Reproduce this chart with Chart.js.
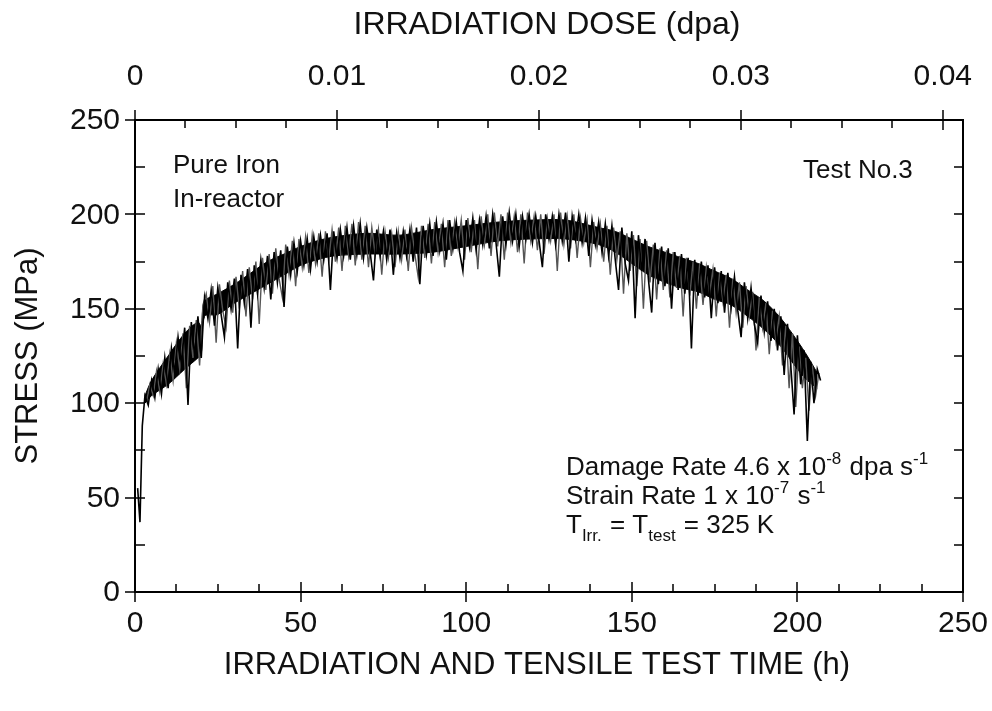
<!DOCTYPE html>
<html lang="en">
<head>
    <meta charset="UTF-8">
    <title>Stress vs irradiation time - Pure Iron Test No.3</title>
    <script src="https://cdn.jsdelivr.net/npm/chart.js"></script>
    <style>
        body {
            margin: 0;
            padding: 0;
            background-color: #ffffff;
        }
        #stressChart {
            display: block;
        }
    </style>
</head>
<body>
<canvas id="stressChart" width="992" height="711"></canvas>

<script>
    // test time (h)
    const hours = [0.8, 1.5, 2.2, 3, 4, 5, 6, 7, 8, 9, 10, 11, 12, 13, 14, 15, 16, 17, 18, 19, 20,
        21, 22, 23, 24, 25, 26, 27, 28, 29, 30, 31, 32, 33, 34, 35, 36, 37, 38, 39, 40,
        41, 42, 43, 44, 45, 46, 47, 48, 49, 50, 51, 52, 53, 54, 55, 56, 57, 58, 59, 60,
        61, 62, 63, 64, 65, 66, 67, 68, 69, 70, 71, 72, 73, 74, 75, 76, 77, 78, 79, 80,
        81, 82, 83, 84, 85, 86, 87, 88, 89, 90, 91, 92, 93, 94, 95, 96, 97, 98, 99, 100,
        101, 102, 103, 104, 105, 106, 107, 108, 109, 110, 111, 112, 113, 114, 115, 116, 117, 118, 119, 120,
        121, 122, 123, 124, 125, 126, 127, 128, 129, 130, 131, 132, 133, 134, 135, 136, 137, 138, 139, 140,
        141, 142, 143, 144, 145, 146, 147, 148, 149, 150, 151, 152, 153, 154, 155, 156, 157, 158, 159, 160,
        161, 162, 163, 164, 165, 166, 167, 168, 169, 170, 171, 172, 173, 174, 175, 176, 177, 178, 179, 180,
        181, 182, 183, 184, 185, 186, 187, 188, 189, 190, 191, 192, 193, 194, 195, 196, 197, 198, 199, 200,
        201, 202, 203, 204, 205, 206, 207];

    // stress (MPa)
    const stress = [55, 37, 88, 104, 99, 112, 103, 118, 105, 124, 108, 129, 116, 135, 121, 140, 99, 143, 125, 146, 124,
        156, 145, 160, 141, 161, 147, 135, 164, 150, 166, 129, 168, 153, 171, 140, 173, 158, 176, 161, 178,
        155, 180, 164, 181, 151, 183, 168, 185, 170, 186, 173, 187, 171, 188, 175, 189, 176, 190, 160, 191,
        177, 192, 178, 193, 176, 194, 179, 195, 177, 193, 180, 165, 192, 178, 191, 176, 192, 168, 190, 177,
        191, 178, 192, 175, 193, 163, 194, 179, 195, 178, 196, 181, 195, 176, 197, 182, 196, 180, 170, 197,
        183, 198, 181, 197, 184, 199, 182, 200, 185, 167, 199, 184, 201, 186, 200, 183, 199, 187, 200, 185,
        199, 186, 172, 200, 187, 199, 184, 200, 186, 201, 175, 199, 187, 200, 185, 198, 178, 197, 184, 196,
        180, 195, 178, 194, 176, 160, 193, 174, 165, 191, 145, 189, 170, 187, 166, 148, 185, 163, 183, 162,
        182, 150, 180, 160, 179, 158, 177, 129, 176, 157, 175, 156, 173, 145, 172, 153, 170, 148, 169, 151,
        167, 149, 135, 164, 145, 161, 142, 132, 157, 138, 154, 133, 150, 128, 146, 115, 142, 120, 94, 136,
        110, 128, 80, 122, 100, 118, 112];

    // second (grey) trace, half-hour readings
    const hoursGrey = [3.5, 4.5, 5.5, 6.5, 7.5, 8.5, 9.5,
        10.5, 11.5, 12.5, 13.5, 14.5, 15.5, 16.5, 17.5, 18.5, 19.5,
        20.5, 21.5, 22.5, 23.5, 24.5, 25.5, 26.5, 27.5, 28.5, 29.5,
        30.5, 31.5, 32.5, 33.5, 34.5, 35.5, 36.5, 37.5, 38.5, 39.5,
        40.5, 41.5, 42.5, 43.5, 44.5, 45.5, 46.5, 47.5, 48.5, 49.5,
        50.5, 51.5, 52.5, 53.5, 54.5, 55.5, 56.5, 57.5, 58.5, 59.5,
        60.5, 61.5, 62.5, 63.5, 64.5, 65.5, 66.5, 67.5, 68.5, 69.5,
        70.5, 71.5, 72.5, 73.5, 74.5, 75.5, 76.5, 77.5, 78.5, 79.5,
        80.5, 81.5, 82.5, 83.5, 84.5, 85.5, 86.5, 87.5, 88.5, 89.5,
        90.5, 91.5, 92.5, 93.5, 94.5, 95.5, 96.5, 97.5, 98.5, 99.5,
        100.5, 101.5, 102.5, 103.5, 104.5, 105.5, 106.5, 107.5, 108.5, 109.5,
        110.5, 111.5, 112.5, 113.5, 114.5, 115.5, 116.5, 117.5, 118.5, 119.5,
        120.5, 121.5, 122.5, 123.5, 124.5, 125.5, 126.5, 127.5, 128.5, 129.5,
        130.5, 131.5, 132.5, 133.5, 134.5, 135.5, 136.5, 137.5, 138.5, 139.5,
        140.5, 141.5, 142.5, 143.5, 144.5, 145.5, 146.5, 147.5, 148.5, 149.5,
        150.5, 151.5, 152.5, 153.5, 154.5, 155.5, 156.5, 157.5, 158.5, 159.5,
        160.5, 161.5, 162.5, 163.5, 164.5, 165.5, 166.5, 167.5, 168.5, 169.5,
        170.5, 171.5, 172.5, 173.5, 174.5, 175.5, 176.5, 177.5, 178.5, 179.5,
        180.5, 181.5, 182.5, 183.5, 184.5, 185.5, 186.5, 187.5, 188.5, 189.5,
        190.5, 191.5, 192.5, 193.5, 194.5, 195.5, 196.5, 197.5, 198.5, 199.5,
        200.5, 201.5, 202.5, 203.5, 204.5, 205.5, 206.5];
    const stressGrey = [101, 110, 104, 117, 106, 121, 110,
        126, 112, 132, 118, 137, 108, 141, 124, 144, 120,
        152, 158, 143, 162, 132, 163, 149, 140, 165, 148,
        167, 150, 170, 146, 172, 155, 175, 142, 177, 160,
        179, 158, 182, 166, 156, 184, 168, 186, 162, 187,
        172, 188, 169, 189, 174, 190, 167, 191, 176, 192,
        175, 193, 170, 194, 178, 195, 173, 196, 176, 194,
        172, 193, 179, 192, 168, 191, 177, 190, 172, 191,
        176, 192, 170, 193, 179, 167, 194, 177, 195, 174,
        196, 180, 195, 172, 197, 178, 196, 183, 197, 176,
        198, 180, 197, 171, 199, 184, 200, 178, 201, 183,
        200, 176, 201, 185, 199, 180, 200, 174, 201, 186,
        199, 181, 200, 179, 198, 186, 200, 170, 201, 184,
        199, 182, 200, 177, 198, 185, 197, 172, 196, 182,
        195, 175, 194, 168, 193, 176, 191, 158, 190, 170,
        189, 162, 187, 150, 186, 164, 184, 155, 182, 160,
        181, 156, 180, 161, 178, 146, 177, 157, 175, 150,
        174, 152, 172, 158, 171, 146, 169, 154, 168, 140,
        166, 148, 164, 140, 162, 146, 159, 128, 156, 140,
        153, 126, 149, 133, 146, 120, 141, 108, 137, 98,
        130, 108, 124, 96, 120, 104, 116];

    // solid core of the noisy band (MPa)
    const bandHours = [3, 5, 10, 15, 19, 20, 21, 25, 30, 35, 40, 45, 50, 55, 60, 70, 80, 90, 100,
        110, 120, 130, 140, 145, 150, 155, 160, 165, 170, 175, 180, 185, 190, 195, 200, 203, 206];
    const bandLow = [100, 104, 110, 118, 124, 126, 146, 147, 153, 158, 163, 168, 173, 176, 178, 179, 179, 180, 183,
        186, 187, 187, 184, 180, 174, 168, 164, 161, 159, 155, 152, 146, 139, 130, 118, 112, 108];
    const bandHigh = [104, 112, 125, 137, 143, 141, 154, 158, 163, 169, 175, 179, 183, 186, 188, 190, 189, 192, 194,
        196, 197, 197, 193, 191, 187, 183, 180, 177, 174, 170, 166, 160, 154, 145, 133, 125, 116];

    const timeTicks = [0, 50, 100, 150, 200, 250];
    const doseTicks = [0, 0.01, 0.02, 0.03, 0.04];
    const doseTickLabels = ['0', '0.01', '0.02', '0.03', '0.04'];
    const stressTicks = [0, 50, 100, 150, 200, 250];

    const FONT = '"Liberation Sans", Arial, sans-serif';

    // frame, ticks and all texts
    const axesPlugin = {
        id: 'axesPlugin',
        afterDraw(chart) {
            const ctx = chart.ctx;
            const xs = chart.scales.x;
            const xt = chart.scales.xTop;
            const ys = chart.scales.y;
            const a = chart.chartArea;

            ctx.save();
            ctx.strokeStyle = '#000';
            ctx.fillStyle = '#111';
            ctx.lineWidth = 2;
            ctx.strokeRect(a.left, a.top, a.right - a.left, a.bottom - a.top);

            ctx.lineWidth = 1.5;
            ctx.beginPath();
            // bottom axis
            for (let v = 0; v <= 250; v += 12.5) {
                const px = Math.round(xs.getPixelForValue(v));
                const major = v % 50 === 0;
                ctx.moveTo(px, a.bottom + (major ? 10 : 0));
                ctx.lineTo(px, a.bottom - (major ? 10 : 8));
            }
            // top axis
            for (let v = 0; v <= 0.0401; v += 0.0025) {
                const px = Math.round(xt.getPixelForValue(v));
                const major = Math.abs(v / 0.01 - Math.round(v / 0.01)) < 1e-6;
                ctx.moveTo(px, a.top - (major ? 10 : 0));
                ctx.lineTo(px, a.top + (major ? 10 : 8));
            }
            // left and right axes
            for (let v = 0; v <= 250; v += 25) {
                const py = Math.round(ys.getPixelForValue(v));
                const major = v % 50 === 0;
                ctx.moveTo(a.left - (major ? 10 : 0), py);
                ctx.lineTo(a.left + 10, py);
                ctx.moveTo(a.right, py);
                ctx.lineTo(a.right - 9, py);
            }
            ctx.stroke();

            // tick labels
            ctx.font = '30px ' + FONT;
            ctx.textAlign = 'center';
            ctx.textBaseline = 'alphabetic';
            timeTicks.forEach(v => {
                ctx.fillText(String(v), xs.getPixelForValue(v), a.bottom + 40);
            });
            doseTicks.forEach((v, i) => {
                ctx.fillText(doseTickLabels[i], xt.getPixelForValue(v), a.top - 35);
            });
            ctx.textAlign = 'right';
            ctx.textBaseline = 'middle';
            stressTicks.forEach(v => {
                ctx.fillText(String(v), a.left - 15, ys.getPixelForValue(v) + 1);
            });

            // axis titles
            ctx.textAlign = 'center';
            ctx.textBaseline = 'middle';
            ctx.font = '32px ' + FONT;
            ctx.fillText('IRRADIATION DOSE (dpa)', (a.left + a.right) / 2 - 2, 25);
            ctx.font = '31px ' + FONT;
            ctx.fillText('IRRADIATION AND TENSILE TEST TIME (h)', (a.left + a.right) / 2 - 12, 665);
            ctx.save();
            ctx.translate(28, (a.top + a.bottom) / 2);
            ctx.rotate(-Math.PI / 2);
            ctx.fillText('STRESS (MPa)', 0, 0);
            ctx.restore();

            // annotations
            ctx.textAlign = 'left';
            ctx.textBaseline = 'alphabetic';
            ctx.font = '26px ' + FONT;
            ctx.fillText('Pure Iron', 173, 173);
            ctx.fillText('In-reactor', 173, 207);
            ctx.fillText('Test No.3', 803, 178);

            // text with super / subscripts
            function runs(parts, x, y) {
                parts.forEach(p => {
                    ctx.font = (p.sub || p.sup ? '17px ' : '26px ') + FONT;
                    const dy = p.sup ? -11 : (p.sub ? 8 : 0);
                    ctx.fillText(p.t, x, y + dy);
                    x += ctx.measureText(p.t).width + (p.sup || p.sub ? 1 : 0);
                });
            }
            runs([{t: 'Damage Rate 4.6 x 10'}, {t: '-8', sup: true}, {t: ' dpa s'}, {t: '-1', sup: true}], 566, 475);
            runs([{t: 'Strain Rate 1 x 10'}, {t: '-7', sup: true}, {t: ' s'}, {t: '-1', sup: true}], 566, 504);
            runs([{t: 'T'}, {t: 'Irr.', sub: true}, {t: ' = T'}, {t: 'test', sub: true}, {t: ' = 325 K'}], 566, 533);

            ctx.restore();
        }
    };

    document.addEventListener('DOMContentLoaded', function() {
        const ctx = document.getElementById('stressChart').getContext('2d');
        const points = hours.map((h, i) => ({x: h, y: stress[i]}));
        const greyPts = hoursGrey.map((h, i) => ({x: h, y: stressGrey[i]}));
        const highPts = bandHours.map((h, i) => ({x: h, y: bandHigh[i]}));
        const lowPts = bandHours.map((h, i) => ({x: h, y: bandLow[i]}));

        new Chart(ctx, {
            type: 'line',
            data: {
                datasets: [{
                    label: 'Stress',
                    data: points,
                    borderColor: '#000000',
                    borderWidth: 1.6,
                    pointRadius: 0,
                    tension: 0,
                    fill: false,
                    order: 0
                }, {
                    label: 'Stress (grey trace)',
                    data: greyPts,
                    borderColor: '#555555',
                    borderWidth: 1.4,
                    pointRadius: 0,
                    tension: 0,
                    fill: false,
                    order: 1
                }, {
                    label: 'Band high',
                    data: highPts,
                    borderColor: '#000000',
                    backgroundColor: '#000000',
                    borderWidth: 1,
                    pointRadius: 0,
                    tension: 0.3,
                    fill: '+1',
                    order: 2
                }, {
                    label: 'Band low',
                    data: lowPts,
                    borderColor: '#000000',
                    borderWidth: 1,
                    pointRadius: 0,
                    tension: 0.3,
                    fill: false,
                    order: 2
                }]
            },
            options: {
                responsive: false,
                animation: false,
                layout: {
                    padding: {left: 135, top: 120, right: 29, bottom: 119}
                },
                plugins: {
                    legend: {display: false},
                    tooltip: {enabled: false}
                },
                scales: {
                    x: {type: 'linear', min: 0, max: 250, display: false},
                    xTop: {type: 'linear', position: 'top', min: 0, max: 0.041, display: false},
                    y: {type: 'linear', min: 0, max: 250, display: false}
                }
            },
            plugins: [axesPlugin]
        });
    });
</script>
</body>
</html>
